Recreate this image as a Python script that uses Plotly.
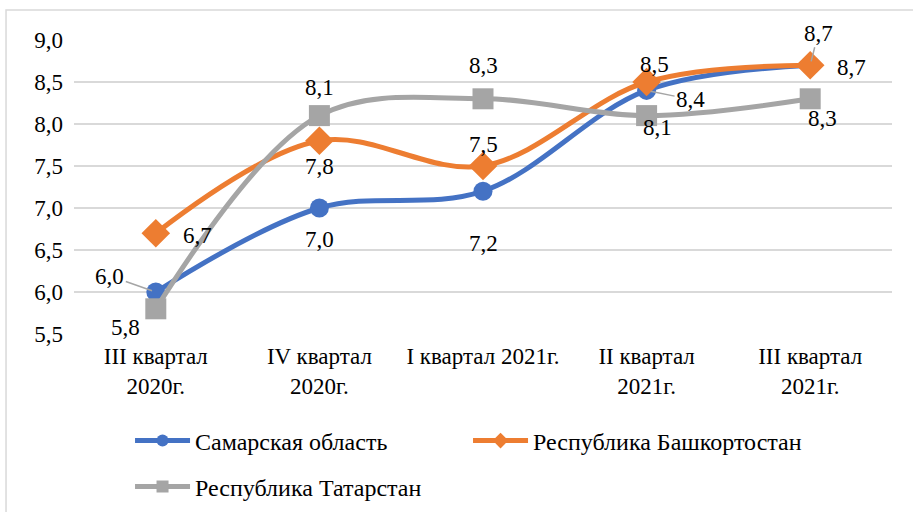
import plotly.graph_objects as go

categories = ["III квартал<br>2020г.", "IV квартал<br>2020г.", "I квартал 2021г.", "II квартал<br>2021г.", "III квартал<br>2021г."]
samara = [6.0, 7.0, 7.2, 8.4, 8.7]
bashkortostan = [6.7, 7.8, 7.5, 8.5, 8.7]
tatarstan = [5.8, 8.1, 8.3, 8.1, 8.3]
y_ticks = [5.5, 6.0, 6.5, 7.0, 7.5, 8.0, 8.5, 9.0]

FONT = "Times New Roman, Liberation Serif, serif"
BLUE, ORANGE, GRAY = "#4472C4", "#ED7D31", "#A5A5A5"

fig = go.Figure()
series = [
    ("Самарская область", samara, BLUE, "circle", 19, "legend"),
    ("Республика Башкортостан", bashkortostan, ORANGE, "diamond", 22, "legend2"),
    ("Республика Татарстан", tatarstan, GRAY, "square", 21, "legend3"),
]
for name, vals, col, sym, sz, lg in series:
    fig.add_trace(go.Scatter(
        x=categories, y=vals, name=name, mode="lines+markers",
        line=dict(color=col, width=5, shape="spline", smoothing=1),
        marker=dict(color=col, symbol=sym, size=sz),
        legend=lg,
    ))

# label offsets (pixels) per series/point: (ax, ay, leader)
offsets = {
    0: [(-46, -16, True), (0, 31, False), (0, 52, False), (44, 9, True), (8, -32, True)],
    1: [(42, 2, False), (0, 26, False), (0, -22, False), (8, -18, False), (41, 2, False)],
    2: [(-30, 19, False), (0, -28, False), (0, -33, False), (11, 12, False), (12, 20, False)],
}
label_font = dict(family=FONT, size=23, color="black")
for si, (name, vals, col, sym, sz, lg) in enumerate(series):
    for pi, v in enumerate(vals):
        ax, ay, leader = offsets[si][pi]
        txt = f"{v:.1f}".replace(".", ",")
        if leader:
            fig.add_annotation(
                x=categories[pi], y=v, ax=ax, ay=ay, axref="pixel", ayref="pixel",
                text=txt, showarrow=True, arrowhead=0, arrowwidth=1.5,
                arrowcolor="#A5A5A5", standoff=4, font=label_font,
            )
        else:
            fig.add_annotation(
                x=categories[pi], y=v, xshift=ax, yshift=-ay, showarrow=False,
                text=txt, font=label_font,
            )

fig.add_shape(type="rect", xref="paper", yref="paper",
              x0=-0.0831, x1=1.2, y0=-1.0, y1=1.102,
              line=dict(color="#D9D9D9", width=1.5), fillcolor="rgba(0,0,0,0)", layer="below")

legend_common = dict(orientation="h", xanchor="left", yanchor="middle",
                     font=dict(family=FONT, size=24, color="black"),
                     itemwidth=55, itemsizing="constant", bgcolor="rgba(0,0,0,0)")
fig.update_layout(
    width=913, height=512,
    margin=dict(l=74, r=21, t=40, b=178, autoexpand=False),
    paper_bgcolor="white", plot_bgcolor="white",
    font=dict(family=FONT, size=23, color="black"),
    xaxis=dict(showgrid=False, showline=False, ticks="",
               tickfont=dict(family=FONT, size=23, color="black"),
               range=[-0.5, 4.5], ticklabelstandoff=6),
    yaxis=dict(range=[5.5, 9.0], tickvals=y_ticks,
               ticktext=[f"{t:.1f}".replace(".", ",") for t in y_ticks],
               showgrid=True, gridcolor="#D9D9D9", gridwidth=1.5,
               zeroline=False, showline=False,
               tickfont=dict(family=FONT, size=23, color="black"), ticklabelstandoff=10),
    legend=dict(x=0.0685, y=-0.364, **legend_common),
    legend2=dict(x=0.4817, y=-0.364, **legend_common),
    legend3=dict(x=0.0685, y=-0.52, **legend_common),
    showlegend=True,
)

fig.write_html("out.html", config={"displayModeBar": False},
               post_script="document.body.style.margin='0';")
